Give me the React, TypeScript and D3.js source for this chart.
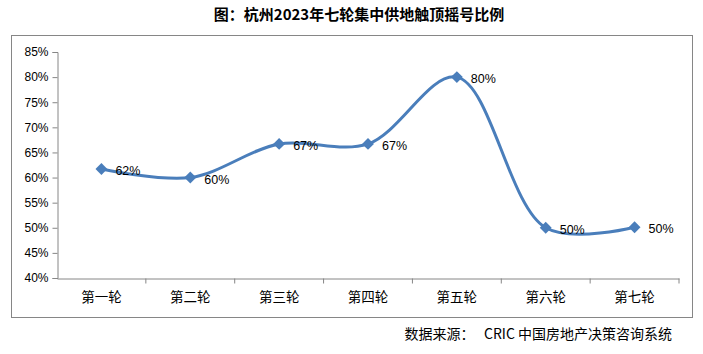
import React, { useEffect, useRef } from 'react';
import * as d3 from 'd3';

const rounds = ['第一轮', '第二轮', '第三轮', '第四轮', '第五轮', '第六轮', '第七轮'];
const ratios = [0.617, 0.6, 0.667, 0.667, 0.8, 0.5, 0.501];
const yTicks = [0.4, 0.45, 0.5, 0.55, 0.6, 0.65, 0.7, 0.75, 0.8, 0.85];

const App = () => {
    const svgRef = useRef<SVGSVGElement>(null);

    useEffect(() => {
        const width = 703;
        const height = 354;
        const margin = { top: 52, right: 24, bottom: 76, left: 57 };
        const svg = d3.select(svgRef.current)
            .attr('width', width)
            .attr('height', height);
        svg.selectAll('*').remove();

        // title
        svg.append('text')
            .attr('x', 359)
            .attr('y', 20)
            .attr('text-anchor', 'middle')
            .attr('font-family', 'Noto Sans CJK SC')
            .attr('font-weight', 'bold')
            .attr('font-size', '15px')
            .attr('fill', '#000')
            .text('图：杭州2023年七轮集中供地触顶摇号比例');

        // chart frame
        svg.append('rect')
            .attr('x', 11.5)
            .attr('y', 35.5)
            .attr('width', 681)
            .attr('height', 282)
            .attr('fill', 'none')
            .attr('stroke', '#868686');

        const xScale = d3.scaleBand()
            .domain(rounds)
            .range([margin.left, width - margin.right]);

        const yScale = d3.scaleLinear()
            .domain([0.4, 0.85])
            .range([height - margin.bottom, margin.top]);

        const g = svg.append('g');

        const yAxis = g.append('g')
            .attr('transform', `translate(${margin.left + 0.5},0)`)
            .call(d3.axisLeft(yScale).tickValues(yTicks).tickFormat(d3.format('.0%')).tickSize(5).tickPadding(4));
        yAxis.selectAll('text')
            .attr('font-family', 'Liberation Sans')
            .attr('font-size', '12px')
            .attr('fill', '#000');
        yAxis.selectAll('line, path').attr('stroke', '#868686');

        const xAxis = g.append('g')
            .attr('transform', `translate(0,${height - margin.bottom + 0.5})`)
            .call(d3.axisBottom(xScale).tickSize(0).tickPadding(14));
        xAxis.selectAll('text')
            .attr('font-family', 'Noto Sans CJK SC')
            .attr('font-size', '13.5px')
            .attr('fill', '#000');
        xAxis.select('path').attr('stroke', '#868686');
        // category separators
        xAxis.selectAll('line.sep')
            .data(rounds)
            .enter()
            .append('line')
            .attr('class', 'sep')
            .attr('x1', d => (xScale(d) as number) + xScale.bandwidth())
            .attr('x2', d => (xScale(d) as number) + xScale.bandwidth())
            .attr('y1', 0)
            .attr('y2', 5)
            .attr('stroke', '#868686');

        const px = (i: number) => (xScale(rounds[i]) as number) + xScale.bandwidth() / 2;

        const line = d3.line<number>()
            .x((_, i) => px(i))
            .y(d => yScale(d))
            .curve(d3.curveCatmullRom.alpha(0.5));

        g.append('path')
            .datum(ratios)
            .attr('fill', 'none')
            .attr('stroke', '#4a7ebb')
            .attr('stroke-width', 3)
            .attr('d', line);

        g.selectAll('path.marker')
            .data(ratios)
            .enter()
            .append('path')
            .attr('class', 'marker')
            .attr('d', d3.symbol().type(d3.symbolDiamond2).size(90))
            .attr('transform', (d, i) => `translate(${px(i)},${yScale(d)})`)
            .attr('fill', '#4a7ebb');

        g.selectAll('text.label')
            .data(ratios)
            .enter()
            .append('text')
            .attr('class', 'label')
            .attr('x', (_, i) => px(i) + 14)
            .attr('y', d => yScale(d) + 6)
            .attr('font-family', 'Liberation Sans')
            .attr('font-size', '12.5px')
            .attr('fill', '#000')
            .text(d => d3.format('.0%')(d));

        // source
        svg.append('text')
            .attr('x', 672)
            .attr('y', 339)
            .attr('text-anchor', 'end')
            .attr('font-family', 'Noto Sans CJK SC')
            .attr('font-size', '14px')
            .attr('fill', '#000')
            .style('white-space', 'pre')
            .text('数据来源：   CRIC 中国房地产决策咨询系统');
    }, []);

    return (
        <svg ref={svgRef} style={{ position: 'absolute', left: 0, top: 0, background: '#fff' }}></svg>
    );
};

export default App;
